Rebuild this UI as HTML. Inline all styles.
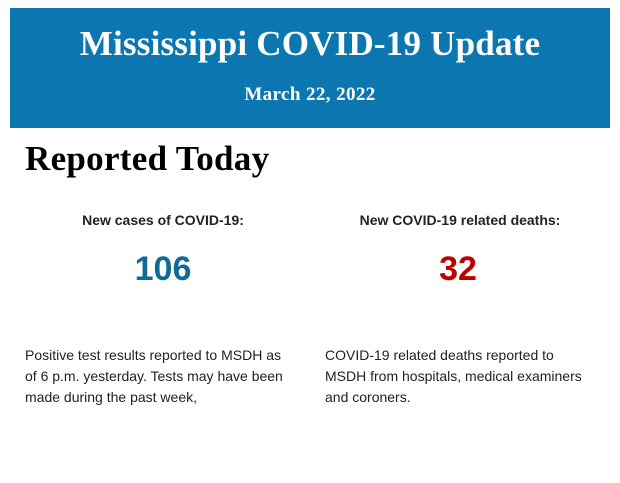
<!DOCTYPE html>
<html><head><meta charset="utf-8"><style>
body{margin:0;width:620px;height:483px;background:#fff;position:relative;overflow:hidden;font-family:"Liberation Sans",sans-serif}
.ban{position:absolute;left:10px;top:8px;width:600px;height:120px;background:#0b76b0;color:#fff;text-align:center;font-family:"Liberation Serif",serif;font-weight:bold}
.t{position:absolute;left:0;right:0;top:16px;font-size:35px;letter-spacing:0.2px}
.d{position:absolute;left:0;right:0;top:76px;font-size:19px;letter-spacing:0.4px}
.h{position:absolute;left:25px;top:139px;font-family:"Liberation Serif",serif;font-weight:bold;font-size:35px;letter-spacing:0.3px;color:#000}
.l{position:absolute;top:212px;font-size:14px;font-weight:bold;color:#222;text-align:center;width:300px}
.n{position:absolute;top:250px;font-size:34px;font-weight:bold;text-align:center;width:300px}
.p{position:absolute;top:345px;font-size:14px;line-height:21px;color:#222;width:266px}
</style></head><body>
<div class="ban"><div class="t">Mississippi COVID-19 Update</div><div class="d">March 22, 2022</div></div>
<div class="h">Reported Today</div>
<div class="l" style="left:13px">New cases of COVID-19:</div>
<div class="l" style="left:310px">New COVID-19 related deaths:</div>
<div class="n" style="left:13px;color:#106a96">106</div>
<div class="n" style="left:308px;color:#c00000">32</div>
<div class="p" style="left:25px">Positive test results reported to MSDH as of 6 p.m. yesterday. Tests may have been made during the past week,</div>
<div class="p" style="left:325px;width:262px">COVID-19 related deaths reported to MSDH from hospitals, medical examiners and coroners.</div>
</body></html>
